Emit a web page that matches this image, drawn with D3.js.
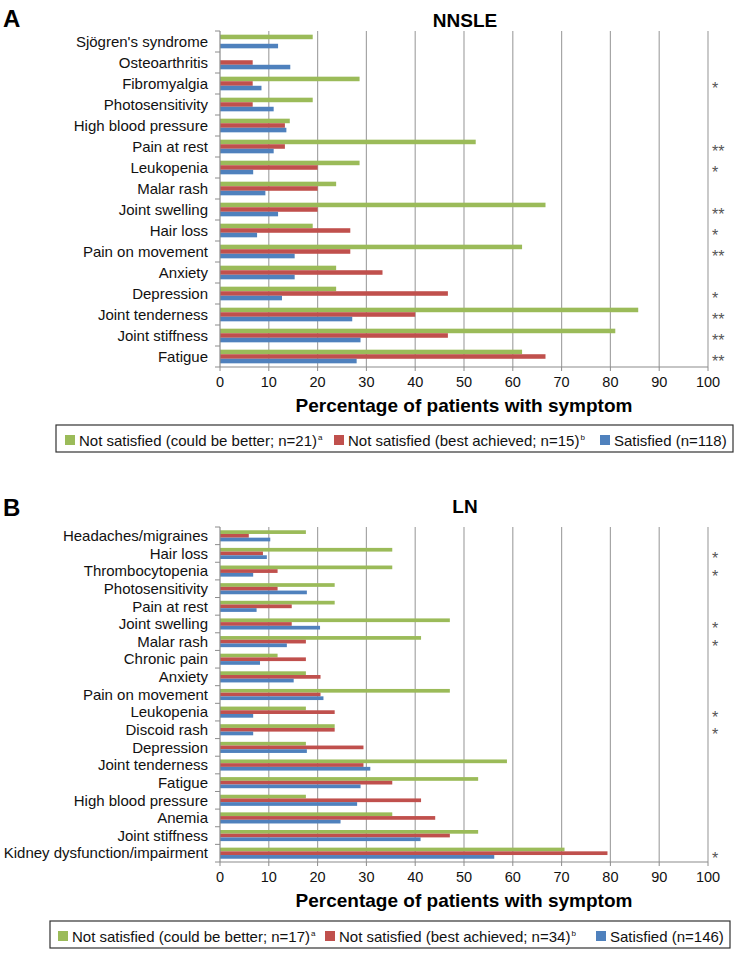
<!DOCTYPE html>
<html><head><meta charset="utf-8">
<script src="https://cdn.jsdelivr.net/npm/d3@7"></script>
<style>body{margin:0;background:#fff}svg{display:block;font-family:"Liberation Sans",Arial,sans-serif}</style>
</head><body><svg id="c" width="745" height="955"></svg>
<script>
const seriesNames = ["green","red","blue"];
const colors = ["#9BBB59","#C0504D","#4F81BD"];
const ticks = [0,10,20,30,40,50,60,70,80,90,100];

const nnsleCats = ["Sjögren's syndrome","Osteoarthritis","Fibromyalgia","Photosensitivity","High blood pressure","Pain at rest","Leukopenia","Malar rash","Joint swelling","Hair loss","Pain on movement","Anxiety","Depression","Joint tenderness","Joint stiffness","Fatigue"];
const nnsleGreen = [19.0,0,28.6,19.0,14.3,52.4,28.6,23.8,66.7,19.0,61.9,23.8,23.8,85.7,81.0,61.9];
const nnsleRed = [0,6.7,6.7,6.7,13.3,13.3,20.0,20.0,20.0,26.7,26.7,33.3,46.7,40.0,46.7,66.7];
const nnsleBlue = [11.9,14.4,8.5,11.0,13.6,11.0,6.8,9.3,11.9,7.6,15.3,15.3,12.7,27.1,28.8,28.0];
const nnsleSig = ["","","*","","","**","*","","**","*","**","","*","**","**","**"];
const nnsleLegend = [["Not satisfied (could be better; n=21)","a"],["Not satisfied (best achieved; n=15)","b"],["Satisfied (n=118)",""]];

const lnCats = ["Headaches/migraines","Hair loss","Thrombocytopenia","Photosensitivity","Pain at rest","Joint swelling","Malar rash","Chronic pain","Anxiety","Pain on movement","Leukopenia","Discoid rash","Depression","Joint tenderness","Fatigue","High blood pressure","Anemia","Joint stiffness","Kidney dysfunction/impairment"];
const lnGreen = [17.6,35.3,35.3,23.5,23.5,47.1,41.2,11.8,17.6,47.1,17.6,23.5,17.6,58.8,52.9,17.6,35.3,52.9,70.6];
const lnRed = [5.9,8.8,11.8,11.8,14.7,14.7,17.6,17.6,20.6,20.6,23.5,23.5,29.4,29.4,35.3,41.2,44.1,47.1,79.4];
const lnBlue = [10.3,9.6,6.8,17.8,7.5,20.5,13.7,8.2,15.1,21.2,6.8,6.8,17.8,30.8,28.8,28.1,24.7,41.1,56.2];
const lnSig = ["","*","*","","","*","*","","","","*","*","","","","","","","*"];
const lnLegend = [["Not satisfied (could be better; n=17)","a"],["Not satisfied (best achieved; n=34)","b"],["Satisfied (n=146)",""]];

const svg = d3.select("#c");

function panel(o){
  const g = svg.append("g");
  const x = d3.scaleLinear().domain([0,100]).range([220,708]);
  const y = d3.scaleBand().domain(o.cats).range([o.top,o.bottom]).paddingInner(o.pad).paddingOuter(o.pad/2);
  const ys = d3.scaleBand().domain(seriesNames).range([0,y.bandwidth()]);
  const step = y.step();
  g.append("text").attr("x",3).attr("y",o.letterY).attr("font-size",24).attr("font-weight","bold").text(o.letter);
  g.append("text").attr("x",465).attr("y",o.titleY).attr("text-anchor","middle").attr("font-size",19).attr("font-weight","bold").text(o.title);
  g.selectAll(".grid").data(ticks.slice(1)).join("line")
    .attr("x1",d=>x(d)).attr("x2",d=>x(d)).attr("y1",o.top).attr("y2",o.bottom)
    .attr("stroke","#a6a6a6").attr("stroke-width",1.2);
  const vals = [o.green,o.red,o.blue];
  seriesNames.forEach((s,si)=>{
    g.selectAll(".b"+si).data(o.cats).join("rect")
      .attr("x",x(0)).attr("y",(d)=>y(d)+ys(s))
      .attr("width",(d,i)=>x(vals[si][i])-x(0)).attr("height",ys.bandwidth())
      .attr("fill",colors[si]);
  });
  g.append("line").attr("x1",x(0)).attr("x2",x(0)).attr("y1",o.top).attr("y2",o.bottom).attr("stroke","#8c8c8c").attr("stroke-width",1.2);
  const bounds = d3.range(o.cats.length+1).map(i=>o.top+i*step);
  g.selectAll(".lt").data(bounds).join("line").attr("x1",x(0)-5).attr("x2",x(0)).attr("y1",d=>d).attr("y2",d=>d).attr("stroke","#8c8c8c");
  g.selectAll(".cl").data(o.cats).join("text")
    .attr("x",208).attr("y",d=>y(d)+y.bandwidth()/2).attr("dy","0.35em")
    .attr("text-anchor","end").attr("font-size",15).attr("fill","#111").text(d=>d);
  g.append("line").attr("x1",x(0)).attr("x2",x(100)).attr("y1",o.bottom).attr("y2",o.bottom).attr("stroke","#8c8c8c").attr("stroke-width",1.2);
  g.selectAll(".bt").data(ticks).join("line").attr("x1",d=>x(d)).attr("x2",d=>x(d)).attr("y1",o.bottom).attr("y2",o.bottom+4).attr("stroke","#8c8c8c");
  g.selectAll(".tl").data(ticks).join("text").attr("x",d=>x(d)).attr("y",o.bottom+20)
    .attr("text-anchor","middle").attr("font-size",14.5).attr("fill","#111").text(d=>d);
  g.append("text").attr("x",464).attr("y",o.bottom+45).attr("text-anchor","middle").attr("font-size",19).attr("font-weight","bold").text("Percentage of patients with symptom");
  g.selectAll(".sg").data(o.cats).join("text")
    .attr("x",712).attr("y",d=>y(d)+y.bandwidth()/2+10.5)
    .attr("font-size",16).attr("fill","#555").text((d,i)=>o.sig[i]);
  const lg = g.append("g");
  lg.append("rect").attr("x",o.lx).attr("y",o.ly).attr("width",o.lw).attr("height",27).attr("fill","#fff").attr("stroke","#333").attr("stroke-width",1.2);
  const items = o.legend;
  o.lpos.forEach((px,i)=>{
    lg.append("rect").attr("x",px).attr("y",o.ly+10).attr("width",10).attr("height",10).attr("fill",colors[i]);
    const t = lg.append("text").attr("x",px+14).attr("y",o.ly+21).attr("font-size",15).attr("fill","#111");
    t.append("tspan").text(items[i][0]);
    if(items[i][1]) t.append("tspan").attr("font-size",8).attr("dx",1).attr("dy",-6).text(items[i][1]);
  });
}

panel({letter:"A",title:"NNSLE",cats:nnsleCats,green:nnsleGreen,red:nnsleRed,blue:nnsleBlue,sig:nnsleSig,legend:nnsleLegend,
  top:31,bottom:367,pad:0.35,letterY:27,titleY:27,lx:56,ly:425,lw:677,lpos:[65,334,600]});
panel({letter:"B",title:"LN",cats:lnCats,green:lnGreen,red:lnRed,blue:lnBlue,sig:lnSig,legend:lnLegend,
  top:527,bottom:862,pad:0.37,letterY:516,titleY:513,lx:50,ly:921,lw:680,lpos:[58,325,596]});
</script></body></html>
